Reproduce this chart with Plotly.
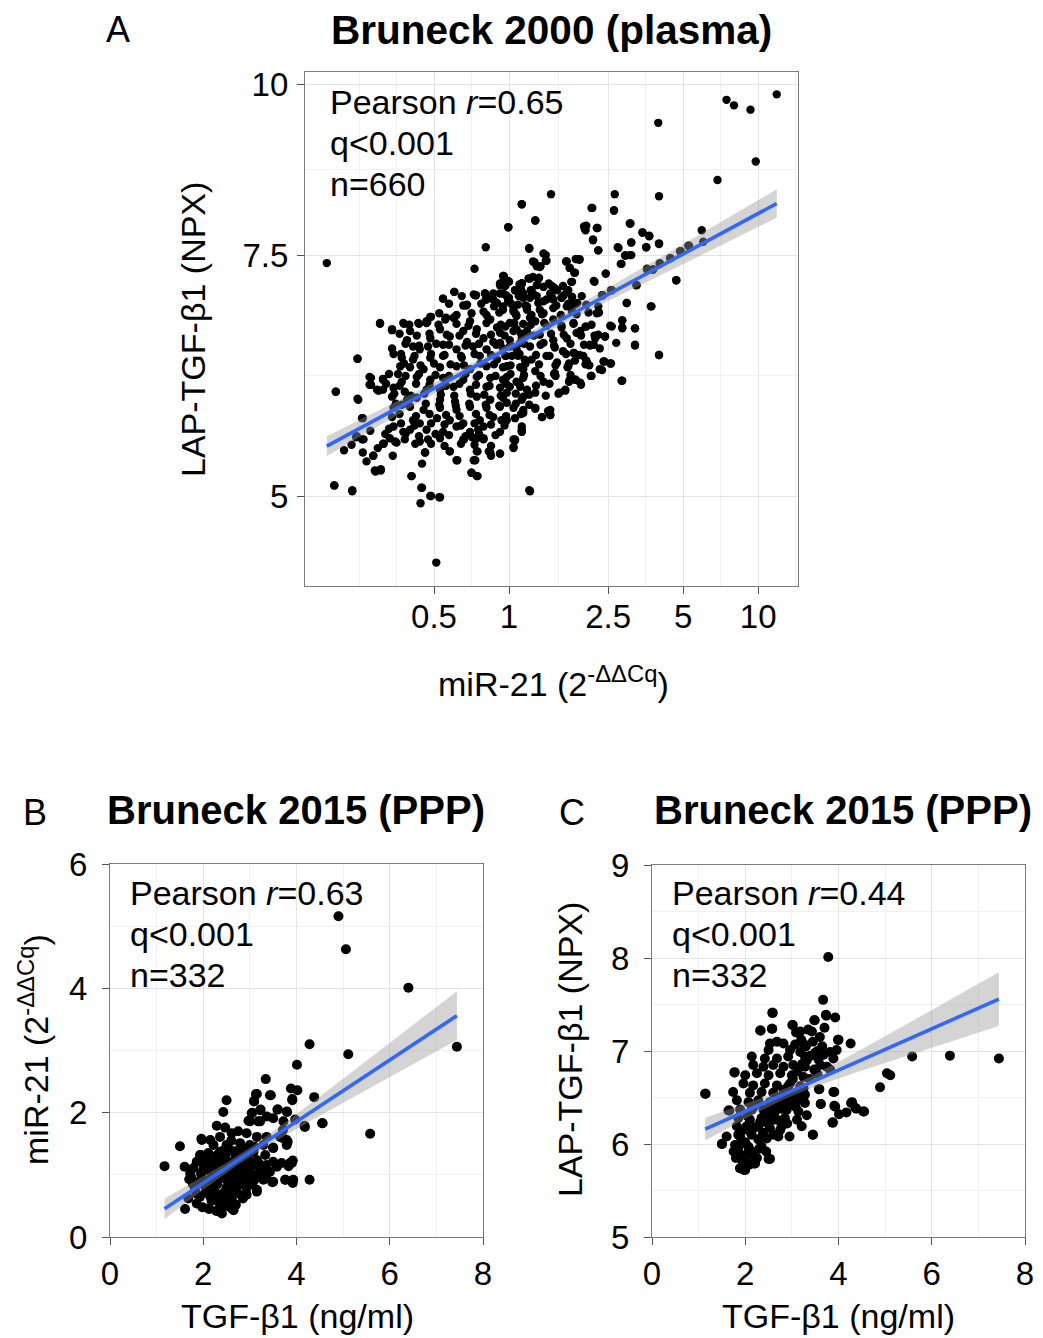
import numpy as np
import plotly.graph_objects as go

FONT = "Liberation Sans, Arial, Helvetica, sans-serif"

# ---------------------------------------------------------------------------
# Panel A - Bruneck 2000 (plasma): miR-21 stored as -ΔΔCq (log2 units),
# LAP-TGF-β1 in NPX.  Each pair is (-ΔΔCq, NPX).
# ---------------------------------------------------------------------------
a_points = [
    (3.57, 9.83), (2.90, 9.74), (3.00, 9.65), (3.22, 9.58), (1.99, 9.37), (3.29, 8.78), (2.78, 8.51),
    (2.00, 8.28), (0.56, 8.31), (1.41, 8.31), (0.17, 8.17), (1.11, 8.12), (1.40, 8.08), (-0.01, 7.86),
    (0.35, 7.95), (-2.43, 7.40), (-2.33, 5.09), (-2.09, 5.04), (-0.97, 4.47), (0.28, 5.04), (-1.18, 4.94),
    (-1.04, 5.00), (-0.93, 4.99), (-1.17, 5.07), (-1.30, 5.17), (-0.50, 5.20), (-0.43, 5.17), (-2.31, 5.96),
    (-2.02, 6.30), (-2.01, 5.88), (-1.95, 5.70), (-1.72, 6.68), (-1.81, 5.35), (-1.78, 5.21), (-1.71, 5.22),
    (2.00, 6.34), (2.23, 7.19), (1.89, 6.88), (1.50, 6.07), (1.68, 6.44), (1.68, 6.63), (1.51, 6.72),
    (1.51, 6.63), (1.57, 6.92), (1.70, 7.13), (1.84, 7.33), (1.92, 7.32), (2.01, 7.39), (2.15, 7.46),
    (2.29, 7.55), (2.40, 7.62), (2.57, 7.82), (2.59, 7.67), (2.00, 7.64), (1.83, 7.60), (1.78, 7.79),
    (1.87, 7.74), (1.62, 7.91), (1.63, 7.66), (1.63, 7.50), (1.55, 7.49), (1.50, 7.39), (1.46, 7.59),
    (1.29, 7.27), (1.36, 7.07), (1.24, 7.01), (1.13, 7.18), (1.19, 7.56), (1.12, 7.70), (1.17, 7.85),
    (1.01, 7.84), (1.03, 7.88), (1.37, 6.65), (1.28, 6.54), (1.20, 6.81), (1.14, 6.55), (1.27, 6.27),
    (1.36, 6.25), (1.24, 6.18), (1.09, 6.12), (1.03, 6.28), (1.07, 6.23), (1.13, 6.45), (1.08, 6.44),
    (1.02, 6.65), (0.96, 6.03), (0.88, 6.08), (0.80, 6.06), (0.75, 5.97), (0.66, 5.94), (0.90, 6.58),
    (0.87, 6.36), (0.88, 6.28), (0.78, 6.21), (0.62, 6.12), (0.52, 5.77), (0.55, 5.73), (0.44, 5.71),
    (0.35, 5.79), (0.08, 5.49), (0.06, 5.42), (0.17, 5.57), (0.17, 5.62), (-0.12, 5.37), (-0.24, 5.35),
    (-0.27, 5.39), (-0.47, 5.31), (-0.42, 5.39), (-0.69, 5.31), (-0.79, 5.39), (-0.34, 5.51), (-0.49, 5.52),
    (-0.41, 5.59), (-0.60, 5.50), (-1.25, 5.46), (-1.12, 5.38), (-1.67, 5.46), (-1.52, 5.48), (-1.60, 5.60),
    (-2.04, 5.52), (-1.96, 5.50), (-1.84, 6.03), (-1.86, 6.11), (-1.74, 5.97), (-1.68, 6.08), (-1.56, 6.61),
    (-1.40, 6.68), (-1.20, 6.68), (-1.09, 6.70), (-1.04, 6.76), (-0.84, 6.75), (-0.73, 6.75), (-0.88, 6.97),
    (-0.73, 7.05), (-0.46, 7.33), (-0.31, 7.60), (-0.57, 6.89), (-0.44, 7.01), (-0.32, 7.03), (0.27, 7.58),
    (0.34, 7.41), (0.41, 7.35), (0.49, 7.50), (0.50, 7.43), (0.76, 7.42), (0.89, 7.45), (0.94, 7.45),
    (0.81, 7.34), (0.87, 7.28), (0.84, 7.17), (-0.07, 7.24), (-0.11, 7.15), (0.00, 7.17), (0.17, 7.15),
    (0.28, 7.21), (0.40, 7.22), (0.16, 7.08), (0.29, 7.07), (0.46, 7.11), (0.60, 7.10), (0.64, 7.07),
    (0.78, 7.07), (0.70, 6.98), (0.84, 6.99), (0.86, 6.90), (0.91, 6.92), (0.50, 6.96), (0.28, 6.98),
    (0.00, 6.98), (-0.12, 7.03), (-0.21, 6.96), (-0.31, 6.96),
    # dense core, left half
    (-0.08, 7.24), (-0.01, 7.17), (-0.12, 7.13), (0.17, 7.15), (-0.73, 7.05), (-0.45, 7.01), (-0.32, 7.03),
    (-0.21, 7.03), (-0.08, 7.03), (0.08, 7.07), (0.19, 7.03), (-0.88, 6.97), (-0.56, 6.90), (-0.30, 6.96),
    (-0.16, 6.92), (-0.01, 6.94), (0.12, 6.90), (-0.34, 6.82), (-0.08, 6.84), (0.06, 6.82), (0.24, 6.84),
    (-1.05, 6.76), (-0.74, 6.75), (-0.52, 6.71), (-0.25, 6.73), (-1.72, 6.69), (-1.41, 6.69), (-1.21, 6.69),
    (-1.10, 6.71), (-0.85, 6.73), (-1.56, 6.62), (-1.32, 6.60), (-0.92, 6.62), (-0.61, 6.60), (-0.43, 6.62),
    (-0.16, 6.64), (-0.05, 6.65), (0.10, 6.62), (0.24, 6.60), (-1.36, 6.50), (-1.05, 6.52), (-0.79, 6.54),
    (-0.56, 6.48), (-0.34, 6.52), (-0.21, 6.48), (0.01, 6.50), (0.17, 6.52), (-1.28, 6.43), (-1.19, 6.40),
    (-1.08, 6.43), (-0.88, 6.45), (-0.70, 6.40), (-0.48, 6.43), (-0.30, 6.40), (-0.08, 6.41), (0.10, 6.40),
    (-2.02, 6.30), (-1.56, 6.41), (-1.54, 6.35), (-1.43, 6.31), (-1.28, 6.29), (-1.05, 6.31), (-0.88, 6.33),
    (-0.63, 6.31), (-0.39, 6.33), (-0.16, 6.29), (0.04, 6.33), (0.21, 6.29), (-1.45, 6.22), (-1.32, 6.21),
    (-1.14, 6.19), (-0.92, 6.21), (-0.70, 6.22), (-0.52, 6.19), (-0.30, 6.22), (-0.08, 6.21), (0.15, 6.21),
    (-1.84, 6.10), (-1.68, 6.09), (-1.86, 6.03), (-1.48, 6.14), (-1.43, 6.06), (-1.23, 6.11), (-1.05, 6.08),
    (-0.88, 6.10), (-0.61, 6.08), (-0.43, 6.11), (-0.25, 6.10), (-0.03, 6.11), (0.19, 6.10), (-1.76, 5.98),
    (-1.68, 5.98), (-1.54, 6.00), (-1.39, 5.96), (-1.10, 5.98), (-0.92, 5.98), (-0.74, 6.01), (-0.52, 5.98),
    (-0.30, 6.01), (-0.12, 6.00), (0.01, 6.01), (0.15, 6.01), (-2.31, 5.96), (-2.02, 5.89), (-1.56, 5.91),
    (-1.36, 5.88), (-1.23, 5.90), (-0.92, 5.88), (-0.72, 5.86), (-0.43, 5.91), (-0.25, 5.88), (-0.08, 5.90),
    (0.19, 5.91), (-1.54, 5.80), (-1.43, 5.83), (-1.32, 5.81), (-1.14, 5.78), (-0.92, 5.80), (-0.70, 5.78),
    (-0.52, 5.81), (-0.30, 5.80), (-0.12, 5.81), (0.06, 5.80), (0.19, 5.75), (-1.96, 5.70), (-1.56, 5.71),
    (-1.28, 5.68), (-1.19, 5.65), (-0.96, 5.70), (-0.79, 5.68), (-0.61, 5.65), (-0.39, 5.68), (-0.21, 5.71),
    (-0.03, 5.68), (-1.54, 5.62), (-1.41, 5.57), (-1.32, 5.59), (-1.10, 5.59), (-0.88, 5.57), (-0.70, 5.62),
    (-0.52, 5.57), (-0.34, 5.62), (-0.12, 5.57), (0.17, 5.57), (-2.03, 5.53), (-1.94, 5.50), (-1.59, 5.51),
    (-1.50, 5.47), (-1.39, 5.50), (-1.19, 5.48), (-1.08, 5.50), (-0.92, 5.51), (-0.61, 5.50), (-0.43, 5.51),
    (-0.34, 5.50), (0.06, 5.50), (-1.68, 5.46), (-1.12, 5.38), (-0.79, 5.39), (-0.43, 5.39), (-0.25, 5.38),
    (-0.12, 5.37), (-1.81, 5.35), (-0.70, 5.31), (-0.45, 5.31), (-1.16, 5.28), (-1.79, 5.22), (-1.71, 5.23),
    (-1.30, 5.17), (-0.50, 5.20), (-0.42, 5.17), (-2.33, 5.09), (-2.09, 5.05), (-1.16, 5.07), (-1.05, 5.00),
    (-0.92, 4.99), (0.27, 5.05),
    # dense core, right half
    (0.17, 8.17), (1.10, 8.12), (1.40, 8.09), (-0.01, 7.86), (0.35, 7.95), (1.00, 7.87), (1.02, 7.82),
    (1.18, 7.85), (1.61, 7.91), (1.78, 7.79), (1.87, 7.75), (2.00, 7.65), (1.12, 7.69), (1.45, 7.60),
    (1.63, 7.66), (1.83, 7.60), (0.27, 7.59), (1.19, 7.56), (0.46, 7.52), (0.49, 7.43), (0.32, 7.42),
    (0.37, 7.36), (0.42, 7.36), (0.77, 7.42), (0.90, 7.45), (0.94, 7.44), (0.81, 7.34), (0.88, 7.28),
    (1.55, 7.50), (1.61, 7.50), (1.49, 7.39), (1.29, 7.27), (1.14, 7.17), (-0.07, 7.23), (-0.01, 7.18),
    (0.26, 7.21), (0.32, 7.23), (0.39, 7.20), (0.17, 7.15), (0.57, 7.12), (0.61, 7.09), (0.46, 7.11),
    (0.83, 7.17), (0.08, 7.07), (0.30, 7.07), (0.55, 7.03), (0.70, 6.98), (0.79, 7.07), (0.84, 6.99),
    (-0.12, 7.15), (-0.01, 6.96), (0.19, 6.98), (0.37, 7.00), (0.46, 6.94), (0.59, 6.96), (0.77, 6.88),
    (0.88, 6.90), (0.84, 6.82), (1.17, 6.80), (1.25, 7.01), (1.37, 7.07), (1.57, 6.92), (1.90, 6.88),
    (1.70, 7.13), (1.84, 7.32), (1.92, 7.32), (2.01, 7.40), (2.15, 7.46), (2.28, 7.55), (2.39, 7.62),
    (2.23, 7.19), (-0.08, 6.88), (0.06, 6.84), (0.24, 6.88), (0.41, 6.84), (0.59, 6.86), (0.10, 6.77),
    (0.28, 6.75), (0.44, 6.79), (0.59, 6.73), (0.01, 6.69), (0.19, 6.68), (0.35, 6.71), (0.50, 6.66),
    (0.70, 6.64), (0.86, 6.68), (0.95, 6.60), (1.03, 6.65), (1.19, 6.56), (1.28, 6.54), (1.15, 6.52),
    (1.08, 6.45), (1.21, 6.41), (1.35, 6.66), (1.51, 6.72), (1.51, 6.64), (1.68, 6.63), (1.68, 6.45),
    (1.43, 6.47), (2.00, 6.34), (-0.12, 6.58), (0.06, 6.60), (0.24, 6.58), (0.41, 6.56), (0.59, 6.50),
    (0.77, 6.52), (-0.12, 6.47), (0.01, 6.43), (0.15, 6.47), (0.28, 6.43), (0.46, 6.47), (0.61, 6.42),
    (0.72, 6.38), (0.86, 6.36), (0.99, 6.33), (1.04, 6.26), (1.26, 6.27), (1.35, 6.25), (1.21, 6.19),
    (1.10, 6.12), (1.51, 6.07), (-0.05, 6.33), (0.12, 6.33), (0.30, 6.29), (0.50, 6.33), (0.64, 6.26),
    (0.79, 6.22), (-0.03, 6.22), (0.19, 6.19), (0.35, 6.17), (0.46, 6.06), (0.61, 6.15), (0.81, 6.08),
    (0.95, 6.05), (0.89, 6.08), (0.75, 5.98), (0.67, 5.95), (-0.08, 6.08), (0.10, 6.06), (0.24, 5.98),
    (0.35, 5.95), (-0.03, 5.95), (0.17, 5.88), (-0.03, 5.85), (0.35, 5.80), (0.19, 5.78), (0.55, 5.78),
    (0.55, 5.73), (0.44, 5.71), (0.08, 5.70), (-0.10, 5.68), (0.17, 5.59), (0.08, 5.50), (0.06, 5.43),
    # overlapping points in the centre of the cloud
    (-0.05, 7.12), (0.14, 7.14), (0.37, 7.13), (0.53, 7.15), (0.72, 7.12), (-0.63, 7.00), (-0.47, 7.02),
    (-0.27, 6.99), (-0.04, 7.01), (0.13, 7.00), (0.33, 7.02), (0.57, 6.99), (0.73, 7.01), (0.97, 7.00),
    (-0.80, 6.91), (-0.61, 6.89), (-0.37, 6.91), (-0.20, 6.88), (0.03, 6.91), (0.22, 6.89), (0.39, 6.92),
    (0.63, 6.89), (0.79, 6.91), (1.03, 6.90), (1.19, 6.88), (-0.93, 6.80), (-0.70, 6.78), (-0.50, 6.80),
    (-0.30, 6.78), (-0.13, 6.81), (0.09, 6.79), (0.30, 6.78), (0.46, 6.80), (0.69, 6.78), (0.90, 6.79),
    (1.06, 6.81), (-1.33, 6.67), (-1.10, 6.69), (-0.94, 6.67), (-0.70, 6.68), (-0.54, 6.66), (-0.30, 6.69),
    (-0.11, 6.67), (0.07, 6.69), (0.29, 6.67), (0.47, 6.69), (0.70, 6.66), (0.86, 6.69), (1.10, 6.67),
    (-1.46, 6.57), (-1.23, 6.55), (-1.06, 6.57), (-0.83, 6.56), (-0.66, 6.55), (-0.44, 6.57), (-0.24, 6.56),
    (-0.06, 6.55), (0.16, 6.57), (0.33, 6.55), (0.56, 6.57), (0.73, 6.56), (0.96, 6.55), (-1.38, 6.46),
    (-1.20, 6.44), (-0.97, 6.46), (-0.80, 6.45), (-0.58, 6.44), (-0.40, 6.46), (-0.17, 6.45), (0.02, 6.44),
    (0.20, 6.46), (0.42, 6.45), (0.60, 6.44), (0.82, 6.46), (1.00, 6.45), (-1.44, 6.35), (-1.26, 6.33),
    (-1.04, 6.35), (-0.86, 6.34), (-0.64, 6.33), (-0.46, 6.35), (-0.24, 6.34), (-0.04, 6.33), (0.14, 6.35),
    (0.36, 6.34), (0.54, 6.33), (0.76, 6.35), (0.94, 6.34), (-1.40, 6.25), (-1.18, 6.23), (-1.00, 6.25),
    (-0.78, 6.24), (-0.60, 6.23), (-0.38, 6.25), (-0.20, 6.24), (0.02, 6.23), (0.22, 6.25), (0.40, 6.24),
    (0.62, 6.23), (0.80, 6.25), (1.02, 6.24), (-1.60, 6.14), (-1.38, 6.12), (-1.20, 6.14), (-0.98, 6.13),
    (-0.80, 6.12), (-0.58, 6.14), (-0.40, 6.13), (-0.18, 6.12), (0.02, 6.14), (0.20, 6.13), (0.42, 6.12),
    (0.60, 6.14), (0.82, 6.13), (-1.64, 6.04), (-1.46, 6.02), (-1.24, 6.04), (-1.06, 6.03), (-0.84, 6.02),
    (-0.66, 6.04), (-0.44, 6.03), (-0.26, 6.02), (-0.04, 6.04), (0.14, 6.03), (0.36, 6.02), (0.54, 6.04),
    (-1.53, 5.94), (-1.31, 5.92), (-1.13, 5.94), (-0.91, 5.93), (-0.73, 5.92), (-0.51, 5.94), (-0.33, 5.93),
    (-0.11, 5.92), (0.09, 5.94), (0.27, 5.93), (0.49, 5.92), (-1.51, 5.84), (-1.33, 5.82), (-1.11, 5.84),
    (-0.93, 5.83), (-0.71, 5.82), (-0.53, 5.84), (-0.31, 5.83), (-0.13, 5.82), (0.09, 5.84), (0.27, 5.83),
    (-1.46, 5.74), (-1.24, 5.72), (-1.06, 5.74), (-0.84, 5.73), (-0.66, 5.72), (-0.44, 5.74), (-0.26, 5.73),
    (-0.04, 5.72), (0.16, 5.74), (-1.44, 5.65), (-1.26, 5.63), (-1.04, 5.65), (-0.86, 5.64), (-0.64, 5.63),
    (-0.46, 5.65), (-0.24, 5.64), (-0.06, 5.63), (-1.38, 5.55), (-1.20, 5.53), (-0.98, 5.55), (-0.80, 5.54),
    (-0.58, 5.53), (-0.40, 5.55), (-0.18, 5.54), (-1.04, 5.46), (-0.86, 5.44), (-0.64, 5.46), (-0.46, 5.45),
    (-0.24, 5.44),
    # lower-left edge of the cloud
    (-2.10, 5.45), (-1.95, 5.38), (-1.85, 5.58), (-1.75, 5.42), (-1.65, 5.55), (-1.55, 5.35),
    (-2.20, 5.40), (-1.90, 5.30),
]

# ---------------------------------------------------------------------------
# Panel B - Bruneck 2015 (PPP): (TGF-β1 ng/ml, miR-21 2^-ΔΔCq)
# ---------------------------------------------------------------------------
b_points = [
    (4.90, 5.16), (5.06, 4.63), (6.40, 4.01), (7.44, 3.06), (5.11, 2.94), (5.58, 1.66), (4.28, 3.10),
    (4.01, 2.77), (3.34, 2.54), (4.56, 1.83), (4.38, 2.25), (4.18, 1.77), (4.28, 0.92), (3.88, 2.39),
    (4.02, 2.36), (3.91, 2.22), (3.97, 1.89), (3.45, 2.28), (3.13, 2.30), (3.09, 2.19), (2.50, 2.20),
    (2.43, 2.01), (3.23, 2.05), (3.60, 2.05), (3.36, 1.94), (3.79, 2.02), (3.05, 2.00), (2.97, 1.87),
    (3.18, 1.86), (2.29, 1.79), (2.47, 1.76), (1.50, 1.46), (1.17, 1.14), (1.60, 1.13), (1.61, 0.45),
    (2.13, 0.45), (2.38, 0.41), (2.65, 0.43), (3.71, 1.59), (3.81, 1.53), (3.50, 1.44), (3.68, 1.19),
    (3.90, 1.19), (3.93, 0.92), (3.76, 0.92), (3.92, 0.87), (3.48, 0.88), (2.92, 0.69), (1.96, 1.58),
    (1.95, 1.32), (1.70, 0.93),
    (3.15, 2.30), (3.09, 2.18), (3.43, 2.28), (3.91, 2.20), (3.59, 2.05), (3.80, 2.01), (3.22, 2.04),
    (3.04, 1.99), (3.00, 1.86), (3.22, 1.86), (3.50, 1.91), (3.72, 1.86), (4.17, 1.79), (4.55, 1.83),
    (3.71, 1.72), (1.97, 1.56), (2.15, 1.56), (2.36, 1.61), (2.61, 1.67), (2.75, 1.70), (2.93, 1.67),
    (3.15, 1.61), (3.36, 1.61), (3.65, 1.61), (3.79, 1.56), (3.79, 1.48), (3.50, 1.43), (3.29, 1.48),
    (2.22, 1.48), (2.50, 1.48), (2.79, 1.51), (3.00, 1.48), (1.93, 1.32), (2.11, 1.35), (2.36, 1.37),
    (2.58, 1.40), (2.83, 1.37), (3.08, 1.37), (3.33, 1.32), (3.50, 1.21), (3.58, 1.13), (3.86, 1.19),
    (3.92, 1.23), (3.83, 1.14), (1.86, 1.21), (2.04, 1.24), (2.29, 1.24), (2.47, 1.27), (2.68, 1.24),
    (2.90, 1.24), (3.15, 1.24), (3.36, 1.16), (1.79, 1.11), (2.00, 1.08), (2.25, 1.11), (2.50, 1.11),
    (2.75, 1.11), (3.00, 1.08), (3.22, 1.08), (3.43, 1.05), (1.75, 0.95), (1.97, 0.95), (2.18, 0.97),
    (2.40, 0.95), (2.65, 0.97), (2.86, 0.95), (3.08, 0.97), (3.29, 0.92), (3.50, 0.89), (3.76, 0.92),
    (1.82, 0.79), (2.04, 0.81), (2.25, 0.81), (2.50, 0.79), (2.72, 0.81), (2.93, 0.79), (3.15, 0.76),
    (1.68, 0.62), (1.93, 0.65), (2.15, 0.65), (2.36, 0.68), (2.61, 0.66), (2.93, 0.68), (3.15, 0.73),
    (1.86, 0.54), (2.11, 0.46), (2.36, 0.52), (2.40, 0.38), (2.61, 0.46), (2.70, 0.52), (2.32, 0.62),
    (2.20, 1.00), (2.40, 1.15), (2.60, 1.05), (2.80, 1.20), (2.30, 0.90), (2.55, 0.85), (2.70, 1.30),
    (2.90, 1.10), (2.45, 1.40), (2.10, 1.15), (2.60, 1.55), (2.85, 0.85), (3.05, 1.15), (2.20, 0.72),
    (2.50, 0.60), (2.75, 0.70), (2.35, 1.05), (2.55, 1.20), (2.65, 0.90), (2.95, 1.30),
    (1.85, 0.70), (2.05, 0.72), (2.25, 0.68), (2.45, 0.72), (2.65, 0.75), (2.85, 0.62), (3.05, 0.85),
    (1.90, 0.88), (2.10, 0.90), (2.30, 0.85), (2.50, 0.92), (2.70, 0.88), (2.90, 0.90), (3.10, 0.92),
    (3.35, 0.98), (1.95, 1.02), (2.15, 1.05), (2.35, 0.98), (2.55, 1.02), (2.75, 1.00), (2.95, 1.02),
    (3.15, 1.00), (3.30, 1.12), (2.00, 1.18), (2.20, 1.20), (2.40, 1.22), (2.60, 1.18), (2.80, 1.15),
    (3.00, 1.20), (3.20, 1.18), (2.10, 1.30), (2.30, 1.32), (2.50, 1.35), (2.70, 1.38), (2.90, 1.42),
    (3.10, 1.45), (1.78, 0.85), (1.72, 1.02), (2.18, 0.58), (2.42, 0.55), (2.62, 0.58), (1.98, 0.48),
    (2.28, 0.42), (2.52, 0.50),
]

# ---------------------------------------------------------------------------
# Panel C - Bruneck 2015 (PPP): (TGF-β1 ng/ml, LAP-TGF-β1 NPX)
# ---------------------------------------------------------------------------
c_points = [
    (3.78, 8.01), (1.15, 6.54), (7.44, 6.92), (6.39, 6.95), (5.58, 6.94), (5.04, 6.76), (5.11, 6.74),
    (4.89, 6.61), (4.55, 6.35), (4.38, 6.38), (4.27, 6.44), (4.17, 6.34), (4.01, 6.32), (3.93, 6.40),
    (3.87, 6.23), (3.62, 6.43), (3.58, 6.59), (3.91, 6.56), (4.26, 7.08), (3.99, 7.12), (3.93, 7.36),
    (3.67, 7.55), (3.74, 7.38), (2.58, 7.41), (2.33, 7.22), (2.58, 7.24), (3.02, 7.28), (3.49, 7.33),
    (1.77, 6.77), (1.64, 6.36), (1.50, 6.00), (1.89, 5.74), (1.97, 5.72), (2.20, 5.79), (2.53, 5.84),
    (3.45, 6.10), (4.36, 6.39), (4.53, 6.35), (4.29, 6.45), (3.88, 6.23),
    (3.18, 7.21), (3.35, 7.23), (3.48, 7.33), (3.73, 7.39), (3.09, 7.20), (3.43, 7.21), (4.00, 7.12),
    (2.53, 7.08), (2.68, 7.10), (2.82, 7.08), (3.07, 7.07), (3.25, 7.08), (2.50, 7.01), (2.96, 7.01),
    (3.18, 6.99), (3.50, 6.98), (3.82, 6.99), (2.14, 6.94), (2.42, 6.92), (2.68, 6.92), (2.92, 6.94),
    (3.28, 6.94), (3.57, 6.91), (3.89, 6.92), (3.96, 7.01), (3.68, 6.96), (2.17, 6.85), (2.39, 6.83),
    (2.60, 6.85), (2.82, 6.83), (3.03, 6.85), (3.28, 6.83), (3.61, 6.85), (3.82, 6.80), (3.75, 6.83),
    (2.00, 6.74), (2.25, 6.76), (2.50, 6.74), (2.75, 6.76), (3.00, 6.74), (3.25, 6.72), (1.96, 6.65),
    (2.17, 6.63), (2.42, 6.65), (2.68, 6.63), (2.96, 6.65), (3.18, 6.62), (3.59, 6.59), (3.89, 6.56),
    (1.74, 6.56), (2.10, 6.55), (2.35, 6.56), (2.60, 6.55), (2.85, 6.53), (3.11, 6.55), (3.28, 6.53),
    (1.82, 6.47), (2.07, 6.45), (2.28, 6.47), (2.53, 6.45), (2.78, 6.47), (3.03, 6.45), (3.28, 6.44),
    (3.62, 6.43), (3.91, 6.41), (1.89, 6.37), (2.14, 6.37), (2.39, 6.37), (2.64, 6.35), (2.89, 6.37),
    (3.14, 6.35), (3.32, 6.31), (1.85, 6.28), (2.10, 6.26), (2.35, 6.28), (2.60, 6.26), (2.85, 6.28),
    (3.11, 6.26), (1.82, 6.19), (2.03, 6.19), (2.28, 6.19), (2.53, 6.17), (2.78, 6.19), (3.21, 6.19),
    (3.45, 6.10), (2.95, 6.08), (1.60, 6.08), (1.89, 6.08), (2.14, 6.10), (2.46, 6.06), (2.71, 6.08),
    (1.50, 6.00), (1.78, 5.99), (2.07, 5.97), (2.35, 5.97), (1.89, 5.88), (2.14, 5.92), (2.50, 5.84),
    (2.00, 5.85), (2.21, 5.79), (1.89, 5.74), (2.00, 5.72), (1.14, 6.54), (1.66, 6.36), (1.77, 6.77),
    (2.59, 7.41), (2.32, 7.22), (2.57, 7.24), (3.01, 7.28),
    (1.85, 5.95), (2.00, 6.02), (2.12, 6.12), (2.22, 6.18), (2.32, 6.24), (2.42, 6.30), (2.52, 6.38),
    (2.62, 6.42), (2.72, 6.50), (2.82, 6.58), (2.92, 6.62), (3.02, 6.70), (3.12, 6.78), (3.22, 6.86),
    (3.32, 6.90), (1.95, 6.15), (2.05, 6.30), (2.18, 6.40), (2.28, 6.05), (2.38, 6.12), (2.48, 6.22),
    (2.58, 6.32), (2.68, 6.26), (2.78, 6.38), (2.88, 6.45), (2.98, 6.52), (3.08, 6.40), (3.18, 6.48),
    (3.38, 6.70), (3.48, 6.80), (2.15, 5.88), (2.30, 5.95), (2.45, 5.92), (2.60, 6.10), (2.75, 6.15),
    (2.90, 6.22), (3.25, 6.60), (3.55, 6.75),
    (3.30, 7.05), (3.45, 7.10), (3.60, 7.15), (3.70, 7.25), (3.55, 7.00), (3.40, 6.95),
    (3.20, 7.12), (3.65, 7.05), (1.80, 5.85), (1.95, 5.80), (2.05, 5.90), (1.90, 6.00),
    (2.10, 5.78), (1.75, 5.92), (2.25, 5.85), (1.85, 6.10),
]

# Panel headings, statistics and axis labels
a_title, b_title, c_title = "Bruneck 2000 (plasma)", "Bruneck 2015 (PPP)", "Bruneck 2015 (PPP)"
a_stats = ["Pearson <i>r</i>=0.65", "q<0.001", "n=660"]
b_stats = ["Pearson <i>r</i>=0.63", "q<0.001", "n=332"]
c_stats = ["Pearson <i>r</i>=0.44", "q<0.001", "n=332"]
mir21_label = "miR-21 (2<sup>-ΔΔCq</sup>)"
lap_label = "LAP-TGF-β1 (NPX)"
tgf_label = "TGF-β1 (ng/ml)"

a_xticks = [0.5, 1, 2.5, 5, 10]
a_yticks = [5, 7.5, 10]
b_xticks = [0, 2, 4, 6, 8]
b_yticks = [0, 2, 4, 6]
c_yticks = [5, 6, 7, 8, 9]

W, H = 1043, 1338
BLUE = "#3366FF"
BAND = "rgba(153,153,153,0.42)"
GRID = "#E4E4E4"
GRID_MINOR = "#F1F1F1"
FRAME = "#7A7A7A"


def lm_band(x, y, n_grid=150, t=1.967):
    """Least-squares line with a 95% confidence band for the mean."""
    x = np.asarray(x, float)
    y = np.asarray(y, float)
    slope, icpt = np.polyfit(x, y, 1)
    n = len(x)
    resid = y - (icpt + slope * x)
    s = np.sqrt(np.sum(resid ** 2) / (n - 2))
    xbar = x.mean()
    sxx = np.sum((x - xbar) ** 2)
    g = np.linspace(x.min(), x.max(), n_grid)
    fit = icpt + slope * g
    se = s * np.sqrt(1.0 / n + (g - xbar) ** 2 / sxx)
    return g, fit, fit - t * se, fit + t * se


fig = go.Figure()


def add_panel(xv, yv, xa, ya, size, log=False):
    xv = np.asarray(xv, float)
    yv = np.asarray(yv, float)
    fig.add_trace(go.Scatter(x=xv, y=yv, mode="markers", xaxis=xa, yaxis=ya,
                             marker=dict(color="black", size=size, line=dict(width=0)),
                             showlegend=False, hoverinfo="skip"))
    if log:
        g, fit, lo, hi = lm_band(np.log10(xv), np.log10(yv))
        g, fit, lo, hi = 10 ** g, 10 ** fit, 10 ** lo, 10 ** hi
    else:
        g, fit, lo, hi = lm_band(xv, yv)
    fig.add_trace(go.Scatter(x=np.concatenate([g, g[::-1]]), y=np.concatenate([hi, lo[::-1]]),
                             mode="lines", fill="toself", fillcolor=BAND, line=dict(width=0),
                             xaxis=xa, yaxis=ya, showlegend=False, hoverinfo="skip"))
    fig.add_trace(go.Scatter(x=g, y=fit, mode="lines", line=dict(color=BLUE, width=3.6),
                             xaxis=xa, yaxis=ya, showlegend=False, hoverinfo="skip"))


a_ddcq, a_npx = zip(*a_points)
a_mir21 = 2.0 ** np.asarray(a_ddcq)
add_panel(a_mir21, a_npx, "x", "y", 8.4, log=True)

b_tgf, b_mir21 = zip(*b_points)
add_panel(b_tgf, b_mir21, "x2", "y2", 10)

c_tgf, c_lap = zip(*c_points)
add_panel(c_tgf, c_lap, "x3", "y3", 10)


def px_x(p):
    return p / W


def px_y(p):
    return 1 - p / H


tick_font = dict(family=FONT, size=33, color="black")
axis_common = dict(showline=True, mirror=True, linecolor=FRAME, linewidth=1.3,
                   ticks="outside", ticklen=7, tickwidth=1.3, tickcolor="#555555",
                   showgrid=True, gridcolor=GRID, gridwidth=1.2, zeroline=False,
                   tickfont=tick_font)


def minor_grid(vals):
    return dict(tickmode="array", tickvals=vals, showgrid=True,
                gridcolor=GRID_MINOR, gridwidth=1, ticks="")


fig.update_layout(
    width=W, height=H,
    margin=dict(l=0, r=0, t=0, b=0, autoexpand=False),
    paper_bgcolor="white", plot_bgcolor="white",
    xaxis=dict(axis_common, domain=[px_x(305), px_x(798)], anchor="y", type="log",
               range=[-0.819, 1.160], tickmode="array", tickvals=a_xticks,
               ticktext=[str(v) for v in a_xticks], ticklabelstandoff=-6,
               minor=minor_grid([0.25, 0.3536, 0.7071, 1.581, 3.536, 7.071, 14.14])),
    yaxis=dict(axis_common, domain=[px_y(586), px_y(72)], anchor="x", type="log",
               range=[0.6332, 1.0089], tickmode="array", tickvals=a_yticks,
               ticktext=["5", "7.5", "10"], ticklabelstandoff=2,
               minor=minor_grid([6.124, 8.660])),
    xaxis2=dict(axis_common, domain=[px_x(110), px_x(483)], anchor="y2", range=[0, 8],
                tickmode="array", tickvals=b_xticks, minor=minor_grid([1, 3, 5, 7])),
    yaxis2=dict(axis_common, domain=[px_y(1237), px_y(864)], anchor="x2", range=[0, 6],
                tickmode="array", tickvals=b_yticks, ticklabelstandoff=8,
                minor=minor_grid([1, 3, 5])),
    xaxis3=dict(axis_common, domain=[px_x(652), px_x(1025)], anchor="y3", range=[0, 8],
                tickmode="array", tickvals=b_xticks, minor=minor_grid([1, 3, 5, 7])),
    yaxis3=dict(axis_common, domain=[px_y(1237), px_y(865)], anchor="x3", range=[5, 9],
                tickmode="array", tickvals=c_yticks, ticklabelstandoff=8,
                minor=minor_grid([5.5, 6.5, 7.5, 8.5])),
)

ann = []


def text(x, y, s, size=34, bold=False, angle=0, xanchor="center"):
    ann.append(dict(x=px_x(x), y=px_y(y), xref="paper", yref="paper", text=(f"<b>{s}</b>" if bold else s),
                    showarrow=False, textangle=angle, xanchor=xanchor, yanchor="middle",
                    font=dict(family=FONT, size=size, color="black")))


# panel letters and headings
text(118, 30, "A", size=36)
text(551, 30, a_title, size=40.5, bold=True)
text(35, 812, "B", size=36)
text(296, 810, b_title, size=40, bold=True)
text(572, 812, "C", size=36)
text(843, 810, c_title, size=40, bold=True)

# axis titles
text(193, 330, lap_label, angle=-90)
text(553, 682, mir21_label)
text(33, 1050, mir21_label, angle=-90)
text(297, 1316, tgf_label)
text(570, 1050, lap_label, angle=-90)
text(838, 1316, tgf_label)

# correlation statistics
for i, line in enumerate(a_stats):
    text(328, 102 + 41 * i, line, xanchor="left")
for i, line in enumerate(b_stats):
    text(128, 893 + 41 * i, line, xanchor="left")
for i, line in enumerate(c_stats):
    text(670, 893 + 41 * i, line, xanchor="left")

fig.update_layout(annotations=ann)
fig.write_html("out.html")
